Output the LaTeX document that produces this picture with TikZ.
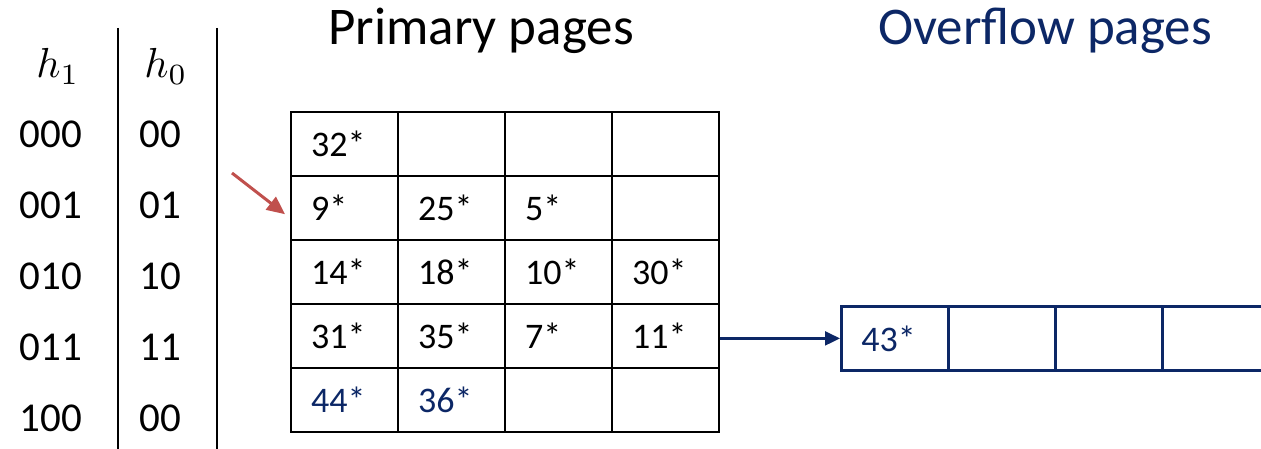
\documentclass[tikz,border=0pt]{standalone}
\usepackage{fontspec}
\setmainfont{Carlito}
\usetikzlibrary{arrows.meta}
\definecolor{navy}{HTML}{0C2766}
\definecolor{pointer}{HTML}{C0504D}
\begin{document}
\begin{tikzpicture}[x=1pt,y=-1pt,
  cell/.style={draw, line width=2.4pt, minimum width=107pt, minimum height=64pt,
    inner xsep=20pt, inner ysep=0pt, text width=67pt, align=left, anchor=north west,
    font=\fontsize{36}{40}\selectfont},
  ocell/.style={cell, draw=navy, text=navy, line width=2.8pt},
  hashlabel/.style={font=\fontsize{41}{46}\selectfont, inner sep=0pt},
  hashhead/.style={inner sep=0pt, anchor=base},
  title/.style={font=\fontsize{53}{58}\selectfont, inner sep=0pt, anchor=base},
  sepline/.style={line width=2.2pt},
  chain/.style={navy, line width=2.2pt, -{Triangle[length=15pt,width=14pt]}},
  next/.style={pointer, line width=3pt, -{Triangle[length=18pt,width=16pt]}}]
\useasboundingbox (0,0) rectangle (1261,449);
\clip (0,0) rectangle (1261,449);

% hash function headers
\node[hashhead] (h1) at (58,78) {\scalebox{4.2}{$h_1$}};
\node[hashhead] (h0) at (166,78) {\scalebox{4.2}{$h_0$}};

% column separators
\draw[sepline] (118,28) -- (118,449);
\draw[sepline] (217,28) -- (217,449);

% bucket addresses under h1 and h0
\foreach \i/\a/\b in {0/000/00, 1/001/01, 2/010/10, 3/011/11, 4/100/00} {
  \node[hashlabel] (a1-\i) at (51,134+71*\i) {\a};
  \node[hashlabel] (a0-\i) at (160,134+71*\i) {\b};
}

% titles
\node[title] (tprim) at (481,45) {Primary pages};
\node[title, text=navy] (tover) at (1045,45) {Overflow pages};

% primary pages
\foreach \r/\a/\b/\c/\d in {
    0/32*/{}/{}/{},
    1/9*/25*/5*/{},
    2/14*/18*/10*/30*,
    3/31*/35*/7*/11*,
    4/\textcolor{navy}{44*}/\textcolor{navy}{36*}/{}/{}} {
  \node[cell] (p-\r-0) at (290,111+64*\r) {\a};
  \node[cell] (p-\r-1) at (397,111+64*\r) {\b};
  \node[cell] (p-\r-2) at (504,111+64*\r) {\c};
  \node[cell] (p-\r-3) at (611,111+64*\r) {\d};
}

% overflow page
\node[ocell] (o-0) at (840,305) {43*};
\node[ocell] (o-1) at (947,305) {};
\node[ocell] (o-2) at (1054,305) {};
\node[ocell] (o-3) at (1161,305) {};

% overflow chain
\draw[chain] (p-3-3.east |- o-0.west) -- (o-0.west);

% split pointer
\coordinate (ptr) at (232,173);
\draw[next] (ptr) -- ([xshift=-5pt,yshift=-6pt]p-1-0.west);
\end{tikzpicture}
\end{document}
